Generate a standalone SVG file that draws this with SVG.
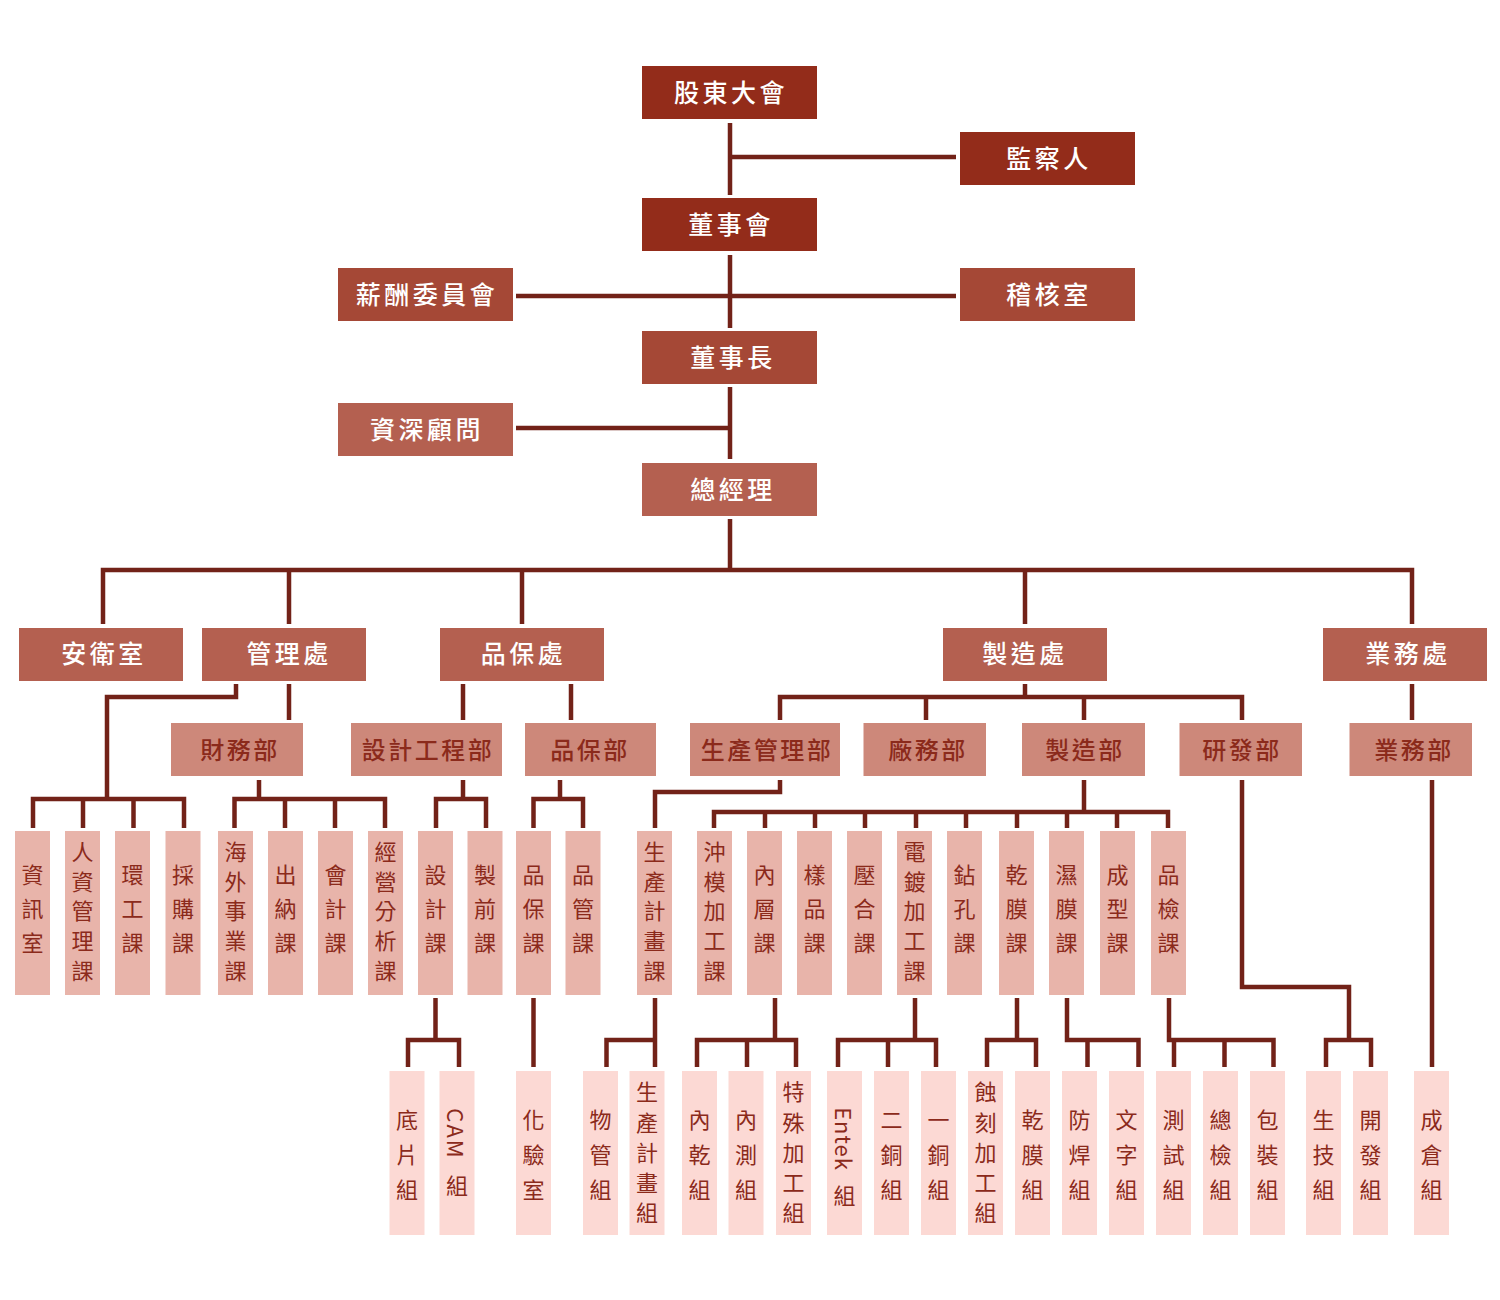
<svg xmlns="http://www.w3.org/2000/svg" width="1500" height="1300" viewBox="0 0 1500 1300">
<style>
text{font-family:"Noto Sans CJK TC","Noto Sans CJK SC","Noto Sans",sans-serif;dominant-baseline:central;text-anchor:middle}
.c1{fill:#932c1a}.c2{fill:#a54836}.c3{fill:#b46050}.c4{fill:#cd887a}.c5{fill:#e8b4aa}.c6{fill:#fcd9d4}
.tw{fill:#ffffff;font-size:25px;letter-spacing:3.5px;font-weight:500}
.td{fill:#8b2a1b;font-size:24px;letter-spacing:2.5px;font-weight:500}
.tv{fill:#8b2a1b;font-size:22px}
.ln path{fill:none;stroke:#722218;stroke-width:4.5;stroke-linejoin:miter}
</style>
<rect width="1500" height="1300" fill="#ffffff"/>
<g class="ln" id="connectors">
<path d="M730 123V195M730 255V328M730 387V459M730 519V570"/>
<path d="M730 157H956M516 296H956M516 428H730"/>
<path d="M103 624V570H1412V624M289 570V624M522 570V624M1025 570V624"/>
<path d="M289 684V720M236 684V697H107V799M463 684V720M571 684V720M1025 684V697M780 720V697H1242V720M926 697V720M1084 697V720M1412 684V720"/>
<path d="M33 828V799H184V828M83 799V828M133.5 799V828"/>
<path d="M259 780V799M234.5 828V799H385V828M285 799V828M335 799V828"/>
<path d="M463 780V799M436 828V799H486V828"/>
<path d="M560 780V799M533.5 828V799H583V828"/>
<path d="M780 780V792H655V828"/>
<path d="M1084 780V812M714 828V812H1168V828M765 812V828M815 812V828M865 812V828M916 812V828M966 812V828M1017 812V828M1067 812V828M1117 812V828"/>
<path d="M1242 780V987H1349V1040M1432 780V1067"/>
<path d="M435.5 998V1040M408 1067V1040H459V1067"/>
<path d="M533.5 998V1067"/>
<path d="M655 998V1067M606.5 1067V1040H655"/>
<path d="M775 998V1040M697 1067V1040H796V1067M747 1040V1067"/>
<path d="M915 998V1040M838 1067V1040H936V1067M888 1040V1067"/>
<path d="M1017 998V1040M987 1067V1040H1036V1067"/>
<path d="M1067 998V1040H1138.5V1067M1087.5 1040V1067"/>
<path d="M1169 998V1040H1273.5V1067M1174 1040V1067M1224.5 1040V1067"/>
<path d="M1326 1067V1040H1371V1067"/>
</g>
<g id="n-gdm"><rect class="c1" x="642" y="66" width="175" height="53"/><text class="tw" x="731" y="91">股東大會</text></g>
<g id="n-jcr"><rect class="c1" x="960" y="132" width="175" height="53"/><text class="tw" x="1049" y="157">監察人</text></g>
<g id="n-dsh"><rect class="c1" x="642" y="198" width="175" height="53"/><text class="tw" x="731" y="223">董事會</text></g>
<g id="n-xc"><rect class="c2" x="338" y="268" width="175" height="53"/><text class="tw" x="427" y="293">薪酬委員會</text></g>
<g id="n-jh"><rect class="c2" x="960" y="268" width="175" height="53"/><text class="tw" x="1049" y="293">稽核室</text></g>
<g id="n-dsz"><rect class="c2" x="642" y="331" width="175" height="53"/><text class="tw" x="733" y="356">董事長</text></g>
<g id="n-zsgw"><rect class="c3" x="338" y="403" width="175" height="53"/><text class="tw" x="427" y="428">資深顧問</text></g>
<g id="n-zjl"><rect class="c3" x="642" y="463" width="175" height="53"/><text class="tw" x="733" y="488">總經理</text></g>

<g id="n-aws"><rect class="c3" x="19" y="628" width="164" height="53"/><text class="tw" x="104" y="652">安衛室</text></g>
<g id="n-glc"><rect class="c3" x="202" y="628" width="164" height="53"/><text class="tw" x="289" y="652">管理處</text></g>
<g id="n-pbc"><rect class="c3" x="440" y="628" width="164" height="53"/><text class="tw" x="523.5" y="652">品保處</text></g>
<g id="n-zzc"><rect class="c3" x="943" y="628" width="164" height="53"/><text class="tw" x="1025" y="652">製造處</text></g>
<g id="n-ywc"><rect class="c3" x="1323" y="628" width="164" height="53"/><text class="tw" x="1408" y="652">業務處</text></g>

<g id="n-cwb"><rect class="c4" x="171" y="723" width="132" height="53"/><text class="td" x="240" y="748">財務部</text></g>
<g id="n-sjgcb"><rect class="c4" x="351" y="723" width="151" height="53"/><text class="td" x="428" y="748">設計工程部</text></g>
<g id="n-pbb"><rect class="c4" x="525" y="723" width="131" height="53"/><text class="td" x="590" y="748">品保部</text></g>
<g id="n-scglb"><rect class="c4" x="690" y="723" width="150" height="53"/><text class="td" x="767" y="748">生產管理部</text></g>
<g id="n-cwb2"><rect class="c4" x="863.5" y="723" width="122.5" height="53"/><text class="td" x="928" y="748">廠務部</text></g>
<g id="n-zzb"><rect class="c4" x="1022" y="723" width="123" height="53"/><text class="td" x="1085" y="748">製造部</text></g>
<g id="n-yfb"><rect class="c4" x="1179.5" y="723" width="122.5" height="53"/><text class="td" x="1242" y="748">研發部</text></g>
<g id="n-ywb"><rect class="c4" x="1349.5" y="723" width="122.5" height="53"/><text class="td" x="1414" y="748">業務部</text></g>

<g id="n-zxs"><rect class="c5" x="15" y="831" width="35" height="164"/><text class="tv"><tspan x="32.5" y="873">資</tspan><tspan x="32.5" y="907">訊</tspan><tspan x="32.5" y="941">室</tspan></text></g>
<g id="n-rzgl"><rect class="c5" x="65" y="831" width="35" height="164"/><text class="tv"><tspan x="82.5" y="850">人</tspan><tspan x="82.5" y="880">資</tspan><tspan x="82.5" y="909">管</tspan><tspan x="82.5" y="939">理</tspan><tspan x="82.5" y="969">課</tspan></text></g>
<g id="n-hgk"><rect class="c5" x="115" y="831" width="35" height="164"/><text class="tv"><tspan x="132.5" y="873">環</tspan><tspan x="132.5" y="907">工</tspan><tspan x="132.5" y="941">課</tspan></text></g>
<g id="n-cgk"><rect class="c5" x="165.5" y="831" width="35" height="164"/><text class="tv"><tspan x="183" y="873">採</tspan><tspan x="183" y="907">購</tspan><tspan x="183" y="941">課</tspan></text></g>
<g id="n-hwsy"><rect class="c5" x="218" y="831" width="35" height="164"/><text class="tv"><tspan x="235.5" y="850">海</tspan><tspan x="235.5" y="880">外</tspan><tspan x="235.5" y="909">事</tspan><tspan x="235.5" y="939">業</tspan><tspan x="235.5" y="969">課</tspan></text></g>
<g id="n-cnk"><rect class="c5" x="268" y="831" width="35" height="164"/><text class="tv"><tspan x="285.5" y="873">出</tspan><tspan x="285.5" y="907">納</tspan><tspan x="285.5" y="941">課</tspan></text></g>
<g id="n-kjk"><rect class="c5" x="318" y="831" width="35" height="164"/><text class="tv"><tspan x="335.5" y="873">會</tspan><tspan x="335.5" y="907">計</tspan><tspan x="335.5" y="941">課</tspan></text></g>
<g id="n-jyfx"><rect class="c5" x="368" y="831" width="35" height="164"/><text class="tv"><tspan x="385.5" y="850">經</tspan><tspan x="385.5" y="880">營</tspan><tspan x="385.5" y="909">分</tspan><tspan x="385.5" y="939">析</tspan><tspan x="385.5" y="969">課</tspan></text></g>
<g id="n-sjk"><rect class="c5" x="418" y="831" width="35" height="164"/><text class="tv"><tspan x="435.5" y="873">設</tspan><tspan x="435.5" y="907">計</tspan><tspan x="435.5" y="941">課</tspan></text></g>
<g id="n-zqk"><rect class="c5" x="467.5" y="831" width="35" height="164"/><text class="tv"><tspan x="485" y="873">製</tspan><tspan x="485" y="907">前</tspan><tspan x="485" y="941">課</tspan></text></g>
<g id="n-pbk"><rect class="c5" x="516" y="831" width="35" height="164"/><text class="tv"><tspan x="533.5" y="873">品</tspan><tspan x="533.5" y="907">保</tspan><tspan x="533.5" y="941">課</tspan></text></g>
<g id="n-pgk"><rect class="c5" x="565.5" y="831" width="35" height="164"/><text class="tv"><tspan x="583" y="873">品</tspan><tspan x="583" y="907">管</tspan><tspan x="583" y="941">課</tspan></text></g>
<g id="n-scjhk"><rect class="c5" x="637" y="831" width="35" height="164"/><text class="tv"><tspan x="654.5" y="850">生</tspan><tspan x="654.5" y="880">產</tspan><tspan x="654.5" y="909">計</tspan><tspan x="654.5" y="939">畫</tspan><tspan x="654.5" y="969">課</tspan></text></g>
<g id="n-cmjg"><rect class="c5" x="697" y="831" width="35" height="164"/><text class="tv"><tspan x="714.5" y="850">沖</tspan><tspan x="714.5" y="880">模</tspan><tspan x="714.5" y="909">加</tspan><tspan x="714.5" y="939">工</tspan><tspan x="714.5" y="969">課</tspan></text></g>
<g id="n-nck"><rect class="c5" x="747" y="831" width="35" height="164"/><text class="tv"><tspan x="764.5" y="873">內</tspan><tspan x="764.5" y="907">層</tspan><tspan x="764.5" y="941">課</tspan></text></g>
<g id="n-ypk"><rect class="c5" x="797" y="831" width="35" height="164"/><text class="tv"><tspan x="814.5" y="873">樣</tspan><tspan x="814.5" y="907">品</tspan><tspan x="814.5" y="941">課</tspan></text></g>
<g id="n-yhk"><rect class="c5" x="847" y="831" width="35" height="164"/><text class="tv"><tspan x="864.5" y="873">壓</tspan><tspan x="864.5" y="907">合</tspan><tspan x="864.5" y="941">課</tspan></text></g>
<g id="n-ddjg"><rect class="c5" x="897" y="831" width="35" height="164"/><text class="tv"><tspan x="914.5" y="850">電</tspan><tspan x="914.5" y="880">鍍</tspan><tspan x="914.5" y="909">加</tspan><tspan x="914.5" y="939">工</tspan><tspan x="914.5" y="969">課</tspan></text></g>
<g id="n-zkk"><rect class="c5" x="947" y="831" width="35" height="164"/><text class="tv"><tspan x="964.5" y="873">鉆</tspan><tspan x="964.5" y="907">孔</tspan><tspan x="964.5" y="941">課</tspan></text></g>
<g id="n-gmk"><rect class="c5" x="999" y="831" width="35" height="164"/><text class="tv"><tspan x="1016.5" y="873">乾</tspan><tspan x="1016.5" y="907">膜</tspan><tspan x="1016.5" y="941">課</tspan></text></g>
<g id="n-smk"><rect class="c5" x="1049" y="831" width="35" height="164"/><text class="tv"><tspan x="1066.5" y="873">濕</tspan><tspan x="1066.5" y="907">膜</tspan><tspan x="1066.5" y="941">課</tspan></text></g>
<g id="n-cxk"><rect class="c5" x="1100" y="831" width="35" height="164"/><text class="tv"><tspan x="1117.5" y="873">成</tspan><tspan x="1117.5" y="907">型</tspan><tspan x="1117.5" y="941">課</tspan></text></g>
<g id="n-pjk"><rect class="c5" x="1151" y="831" width="35" height="164"/><text class="tv"><tspan x="1168.5" y="873">品</tspan><tspan x="1168.5" y="907">檢</tspan><tspan x="1168.5" y="941">課</tspan></text></g>

<g id="n-dpz"><rect class="c6" x="389.5" y="1071" width="35" height="164"/><text class="tv"><tspan x="407" y="1118">底</tspan><tspan x="407" y="1153">片</tspan><tspan x="407" y="1188">組</tspan></text></g>
<g id="n-camz"><rect class="c6" x="439.5" y="1071" width="35" height="164"/><text class="tv" transform="translate(457 1134) rotate(90)" x="0" y="0" letter-spacing="2">CAM</text><text class="tv" x="457" y="1184">組</text></g>
<g id="n-hys"><rect class="c6" x="516" y="1071" width="35" height="164"/><text class="tv"><tspan x="533.5" y="1118">化</tspan><tspan x="533.5" y="1153">驗</tspan><tspan x="533.5" y="1188">室</tspan></text></g>
<g id="n-wgz"><rect class="c6" x="583" y="1071" width="35" height="164"/><text class="tv"><tspan x="600.5" y="1118">物</tspan><tspan x="600.5" y="1153">管</tspan><tspan x="600.5" y="1188">組</tspan></text></g>
<g id="n-scjhz"><rect class="c6" x="629.5" y="1071" width="35" height="164"/><text class="tv"><tspan x="647" y="1090">生</tspan><tspan x="647" y="1121">產</tspan><tspan x="647" y="1151">計</tspan><tspan x="647" y="1181">畫</tspan><tspan x="647" y="1211">組</tspan></text></g>
<g id="n-ngz"><rect class="c6" x="682" y="1071" width="35" height="164"/><text class="tv"><tspan x="699.5" y="1118">內</tspan><tspan x="699.5" y="1153">乾</tspan><tspan x="699.5" y="1188">組</tspan></text></g>
<g id="n-ncz"><rect class="c6" x="728.5" y="1071" width="35" height="164"/><text class="tv"><tspan x="746" y="1118">內</tspan><tspan x="746" y="1153">測</tspan><tspan x="746" y="1188">組</tspan></text></g>
<g id="n-tsjg"><rect class="c6" x="776" y="1071" width="35" height="164"/><text class="tv"><tspan x="793.5" y="1090">特</tspan><tspan x="793.5" y="1121">殊</tspan><tspan x="793.5" y="1151">加</tspan><tspan x="793.5" y="1181">工</tspan><tspan x="793.5" y="1211">組</tspan></text></g>
<g id="n-entek"><rect class="c6" x="827" y="1071" width="35" height="164"/><text class="tv" transform="translate(844.5 1139) rotate(90)" x="0" y="0" letter-spacing="1">Entek</text><text class="tv" x="844.5" y="1194">組</text></g>
<g id="n-etz"><rect class="c6" x="874" y="1071" width="35" height="164"/><text class="tv"><tspan x="891.5" y="1118">二</tspan><tspan x="891.5" y="1153">銅</tspan><tspan x="891.5" y="1188">組</tspan></text></g>
<g id="n-ytz"><rect class="c6" x="921" y="1071" width="35" height="164"/><text class="tv"><tspan x="938.5" y="1118">一</tspan><tspan x="938.5" y="1153">銅</tspan><tspan x="938.5" y="1188">組</tspan></text></g>
<g id="n-skjg"><rect class="c6" x="968" y="1071" width="35" height="164"/><text class="tv"><tspan x="985.5" y="1090">蝕</tspan><tspan x="985.5" y="1121">刻</tspan><tspan x="985.5" y="1151">加</tspan><tspan x="985.5" y="1181">工</tspan><tspan x="985.5" y="1211">組</tspan></text></g>
<g id="n-gmz"><rect class="c6" x="1015" y="1071" width="35" height="164"/><text class="tv"><tspan x="1032.5" y="1118">乾</tspan><tspan x="1032.5" y="1153">膜</tspan><tspan x="1032.5" y="1188">組</tspan></text></g>
<g id="n-fhz"><rect class="c6" x="1062" y="1071" width="35" height="164"/><text class="tv"><tspan x="1079.5" y="1118">防</tspan><tspan x="1079.5" y="1153">焊</tspan><tspan x="1079.5" y="1188">組</tspan></text></g>
<g id="n-wzz"><rect class="c6" x="1109" y="1071" width="35" height="164"/><text class="tv"><tspan x="1126.5" y="1118">文</tspan><tspan x="1126.5" y="1153">字</tspan><tspan x="1126.5" y="1188">組</tspan></text></g>
<g id="n-csz"><rect class="c6" x="1156" y="1071" width="35" height="164"/><text class="tv"><tspan x="1173.5" y="1118">測</tspan><tspan x="1173.5" y="1153">試</tspan><tspan x="1173.5" y="1188">組</tspan></text></g>
<g id="n-zjz"><rect class="c6" x="1203" y="1071" width="35" height="164"/><text class="tv"><tspan x="1220.5" y="1118">總</tspan><tspan x="1220.5" y="1153">檢</tspan><tspan x="1220.5" y="1188">組</tspan></text></g>
<g id="n-bzz"><rect class="c6" x="1250" y="1071" width="35" height="164"/><text class="tv"><tspan x="1267.5" y="1118">包</tspan><tspan x="1267.5" y="1153">裝</tspan><tspan x="1267.5" y="1188">組</tspan></text></g>
<g id="n-sjz"><rect class="c6" x="1306" y="1071" width="35" height="164"/><text class="tv"><tspan x="1323.5" y="1118">生</tspan><tspan x="1323.5" y="1153">技</tspan><tspan x="1323.5" y="1188">組</tspan></text></g>
<g id="n-kfz"><rect class="c6" x="1353" y="1071" width="35" height="164"/><text class="tv"><tspan x="1370.5" y="1118">開</tspan><tspan x="1370.5" y="1153">發</tspan><tspan x="1370.5" y="1188">組</tspan></text></g>
<g id="n-ccz"><rect class="c6" x="1414" y="1071" width="35" height="164"/><text class="tv"><tspan x="1431.5" y="1118">成</tspan><tspan x="1431.5" y="1153">倉</tspan><tspan x="1431.5" y="1188">組</tspan></text></g>
</svg>
